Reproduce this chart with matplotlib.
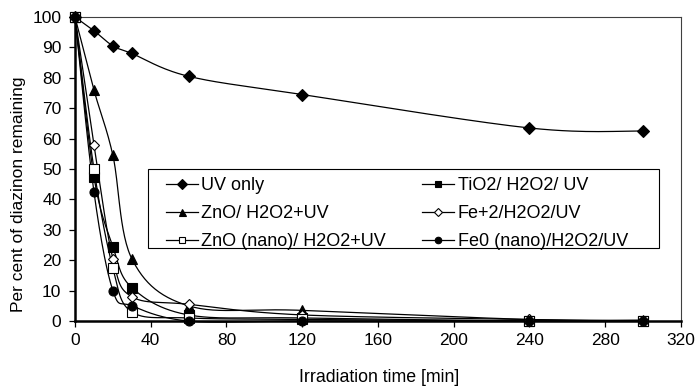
import numpy as np
import matplotlib
matplotlib.use("Agg")
import matplotlib.pyplot as plt
from matplotlib.patches import Rectangle

plt.rcParams['font.family'] = ['Liberation Sans', 'DejaVu Sans']

time_min = [0, 10, 20, 30, 60, 120, 240, 300]
uv_only = [100, 95.5, 90.5, 88, 80.5, 74.5, 63.5, 62.5]
tio2 = [100, 47.5, 24.5, 11, 2, 1, 0, 0]
zno = [100, 76, 54.5, 20.5, 5, 3.5, 0.5, 0.3]
fe2 = [100, 58, 20.5, 8, 5.5, 2, 0.5, 0]
zno_nano = [100, 50, 17.5, 3, 1, 0.5, 0, 0]
fe0_nano = [100, 42.5, 10, 5, 0, 0, 0, 0]

labels = ["UV only", "TiO2/ H2O2/ UV", "ZnO/ H2O2+UV", "Fe+2/H2O2/UV",
          "ZnO (nano)/ H2O2+UV", "Fe0 (nano)/H2O2/UV"]


def smooth(x, y, n=30):
    # Excel-style smoothed line (Catmull-Rom through the points)
    x = np.asarray(x, float)
    y = np.asarray(y, float)
    px = np.concatenate([[x[0]], x, [x[-1]]])
    py = np.concatenate([[y[0]], y, [y[-1]]])
    xs, ys = [], []
    t = np.linspace(0, 1, n)
    for i in range(1, len(px) - 2):
        p0x, p1x, p2x, p3x = px[i - 1], px[i], px[i + 1], px[i + 2]
        p0y, p1y, p2y, p3y = py[i - 1], py[i], py[i + 1], py[i + 2]
        c1x, c1y = p1x + (p2x - p0x) / 6, p1y + (p2y - p0y) / 6
        c2x, c2y = p2x - (p3x - p1x) / 6, p2y - (p3y - p1y) / 6
        bx = (1 - t)**3 * p1x + 3 * (1 - t)**2 * t * c1x + 3 * (1 - t) * t**2 * c2x + t**3 * p2x
        by = (1 - t)**3 * p1y + 3 * (1 - t)**2 * t * c1y + 3 * (1 - t) * t**2 * c2y + t**3 * p2y
        xs.extend(bx)
        ys.extend(by)
    return np.array(xs), np.array(ys)


fig = plt.figure(figsize=(6.99, 3.91), dpi=100)
ax = fig.add_axes([0.1073, 0.179, 0.8667, 0.7775])

series = [
    (uv_only, 'D', 'black', 6.5),
    (tio2, 's', 'black', 6.5),
    (zno, '^', 'black', 7),
    (fe2, 'D', 'white', 5.5),
    (zno_nano, 's', 'white', 6.5),
    (fe0_nano, 'o', 'black', 6.5),
]

handles = []
for (vals, mk, face, ms), lab in zip(series, labels):
    sx, sy = smooth(time_min, vals)
    ax.plot(sx, sy, color='black', lw=0.9, clip_on=False, zorder=2)
    ax.plot(time_min, vals, linestyle='none', marker=mk, markersize=ms,
            markerfacecolor=face, markeredgecolor='black', markeredgewidth=0.8,
            clip_on=False, zorder=3)
    h, = ax.plot([], [], color='black', lw=0.9, marker=mk, markersize=ms * 0.72,
                 markerfacecolor=face, markeredgecolor='black', markeredgewidth=0.8)
    handles.append(h)

ax.set_xlim(0, 320)
ax.set_ylim(0, 100)
ax.set_xticks(np.arange(0, 321, 40))
ax.set_yticks(np.arange(0, 101, 10))
ax.tick_params(direction='out', length=4.3, width=0.9, labelsize=12.5, colors='black')
ax.tick_params(axis='x', pad=4.5)
ax.tick_params(axis='y', pad=5.5)

for side in ['left', 'bottom']:
    ax.spines[side].set_linewidth(1.8)
for side in ['top', 'right']:
    ax.spines[side].set_linewidth(0.8)
    ax.spines[side].set_color('#404040')

fig.text(379 / 699, 1 - 377 / 391, "Irradiation time [min]", fontsize=12.8,
         ha='center', va='center')
fig.text(18.5 / 699, 1 - 194 / 391, "Per cent of diazinon remaining", fontsize=12.5,
         ha='center', va='center', rotation=90)

# legend fills row by row in the original, matplotlib fills columns
order = [0, 2, 4, 1, 3, 5]
leg = ax.legend([handles[i] for i in order], [labels[i] for i in order], ncol=2,
                loc='upper left', bbox_to_anchor=(0.1500, 0.4737),
                borderaxespad=0, borderpad=0, frameon=False, fontsize=13,
                handlelength=1.77, handletextpad=0.2,
                labelspacing=0.61, columnspacing=2.0)
ax.add_patch(Rectangle((0.1205, 0.240), 0.9637 - 0.1205, 0.5 - 0.240,
                       transform=ax.transAxes, fill=True, facecolor='white',
                       edgecolor='black', lw=0.8, zorder=4))
leg.set_zorder(5)

fig.savefig("out.png", dpi=100)
